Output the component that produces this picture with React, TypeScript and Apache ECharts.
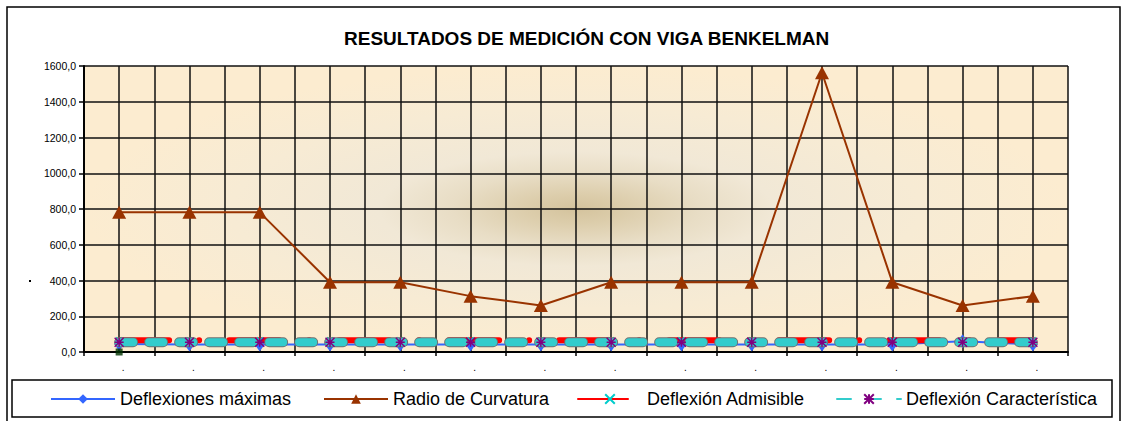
import React, { useEffect, useRef } from "react";
import * as echarts from "echarts";

const xLabels = [".", ".", ".", ".", ".", ".", ".", ".", ".", ".", ".", ".", ".", "."];
const deflexionesMaximas = [45, 42, 42, 42, 42, 42, 42, 42, 42, 42, 42, 42, 60, 42];
const radioCurvatura = [781.3, 781.3, 781.3, 390.6, 390.6, 312.5, 260.4, 390.6, 390.6, 390.6, 1562.5, 390.6, 260.4, 312.5];
const deflexionAdmisible = [66, 66, 66, 66, 66, 66, 66, 66, 66, 66, 66, 66, 66, 66];
const deflexionCaracteristica = [55, 55, 55, 55, 55, 55, 55, 55, 55, 55, 55, 55, 55, 55];
const marcaInicial = [0, null, null, null, null, null, null, null, null, null, null, null, null, null];
const yTicks = { min: 0, max: 1600, interval: 200 };

const FONT = "'Liberation Sans', Arial, sans-serif";
const GRID = { left: 84, top: 66, width: 984, height: 286 };

export default function App() {
  const ref = useRef<HTMLDivElement>(null);
  useEffect(() => {
    if (!ref.current) return;
    const chart = echarts.init(ref.current, null, { renderer: "svg" });
    const starPath = "path://M0,0L10,10M10,0L0,10M5,0L5,10M0,5L10,5";
    const xPath = "path://M0,0L10,10M10,0L0,10";
    const legendBase = {
      top: 385,
      itemWidth: 64,
      itemHeight: 12,
      textStyle: { fontFamily: FONT, fontSize: 18, color: "#000" },
      selectedMode: false as const,
    };
    chart.setOption({
      animation: false,
      backgroundColor: "#fff",
      title: {
        text: "RESULTADOS DE MEDICIÓN CON VIGA BENKELMAN",
        left: 339,
        top: 24,
        textStyle: { fontFamily: FONT, fontSize: 19, fontWeight: "bold", color: "#000" },
      },
      grid: {
        ...GRID,
        show: true,
        borderWidth: 0,
        backgroundColor: {
          type: "radial",
          x: 0.5,
          y: 0.5,
          r: 0.5,
          colorStops: [
            { offset: 0, color: "#D4C39D" },
            { offset: 0.1, color: "#DCCDAB" },
            { offset: 0.25, color: "#E8DDC5" },
            { offset: 0.4, color: "#F1E8D6" },
            { offset: 0.7, color: "#F7EBD4" },
            { offset: 1, color: "#FCECD0" },
          ],
        },
      },
      legend: [
        { ...legendBase, left: 45, data: ["Deflexiones máximas"] },
        { ...legendBase, left: 318, data: ["Radio de Curvatura"] },
        { ...legendBase, left: 572, data: ["Deflexión Admisible"] },
        { ...legendBase, left: 831, data: ["Deflexión Característica"] },
      ],
      xAxis: [
        {
          type: "category",
          data: xLabels,
          boundaryGap: true,
          axisLine: { show: true, lineStyle: { color: "#000", width: 2 } },
          axisTick: { show: true, length: 4, lineStyle: { color: "#000", width: 1.5 } },
          axisLabel: {
            interval: 0,
            margin: 10,
            fontSize: 10,
            fontFamily: FONT,
            color: "#000",
            padding: [0, 0, 0, 8],
          },
          splitLine: { show: false },
        },
        {
          type: "value",
          position: "top",
          min: 0,
          max: 28,
          interval: 1,
          axisLine: { show: false },
          axisTick: { show: false },
          axisLabel: { show: false },
          splitLine: { show: true, lineStyle: { color: "#111", width: 1.5 } },
        },
      ],
      yAxis: {
        type: "value",
        min: yTicks.min,
        max: yTicks.max,
        interval: yTicks.interval,
        axisLine: { show: true, lineStyle: { color: "#000", width: 2 } },
        axisTick: { show: true, length: 5, lineStyle: { color: "#000", width: 1.5 } },
        axisLabel: {
          margin: 8,
          fontSize: 10.5,
          fontFamily: FONT,
          color: "#000",
          formatter: (v: number) => v.toFixed(1).replace(".", ","),
        },
        splitLine: { show: true, lineStyle: { color: "#111", width: 1.5 } },
      },
      series: [
        {
          name: "Deflexiones máximas",
          type: "line",
          data: deflexionesMaximas,
          symbol: "diamond",
          symbolSize: [10, 14],
          itemStyle: { color: "#3366FF" },
          lineStyle: { color: "#3366FF", width: 2 },
          z: 2,
        },
        {
          name: "Radio de Curvatura",
          type: "line",
          data: radioCurvatura,
          symbol: "triangle",
          symbolSize: [14, 13],
          itemStyle: { color: "#993300" },
          lineStyle: { color: "#993300", width: 2 },
          z: 3,
        },
        {
          name: "Deflexión Admisible",
          type: "line",
          data: deflexionAdmisible,
          symbol: xPath,
          symbolSize: 6,
          itemStyle: { color: "none", borderColor: "#00CCCC", borderWidth: 1.5 },
          lineStyle: { color: "#FF0000", width: 6, type: [50, 30, 0.01, 30], cap: "round" },
          z: 4,
        },
        {
          name: "contorno",
          type: "line",
          data: deflexionCaracteristica,
          symbol: "none",
          lineStyle: { color: "#707070", width: 10, type: [14, 16], cap: "round" },
          z: 5,
        },
        {
          name: "Deflexión Característica",
          type: "line",
          data: deflexionCaracteristica,
          symbol: starPath,
          symbolSize: 9,
          itemStyle: { color: "none", borderColor: "#800080", borderWidth: 1.5 },
          lineStyle: { color: "#33CCCC", width: 8, type: [14, 16], cap: "round" },
          z: 6,
        },
        {
          name: "marca",
          type: "scatter",
          data: marcaInicial,
          symbol: "rect",
          symbolSize: 7,
          itemStyle: { color: "#003300" },
          z: 7,
        },
      ],
      graphic: [
        {
          type: "rect",
          shape: { x: 7, y: 7, width: 1113, height: 420 },
          style: { fill: "none", stroke: "#000", lineWidth: 1.5 },
          silent: true,
        },
        {
          type: "rect",
          shape: { x: 12, y: 380, width: 1100, height: 37 },
          style: { fill: "none", stroke: "#000", lineWidth: 1.5 },
          silent: true,
        },
        {
          type: "rect",
          shape: { x: 29, y: 280, width: 2, height: 2 },
          style: { fill: "#000" },
          silent: true,
        },
      ],
    });
    return () => chart.dispose();
  }, []);
  return (
    <div
      ref={ref}
      style={{ position: "absolute", left: 0, top: 0, width: 1127, height: 421 }}
    />
  );
}
